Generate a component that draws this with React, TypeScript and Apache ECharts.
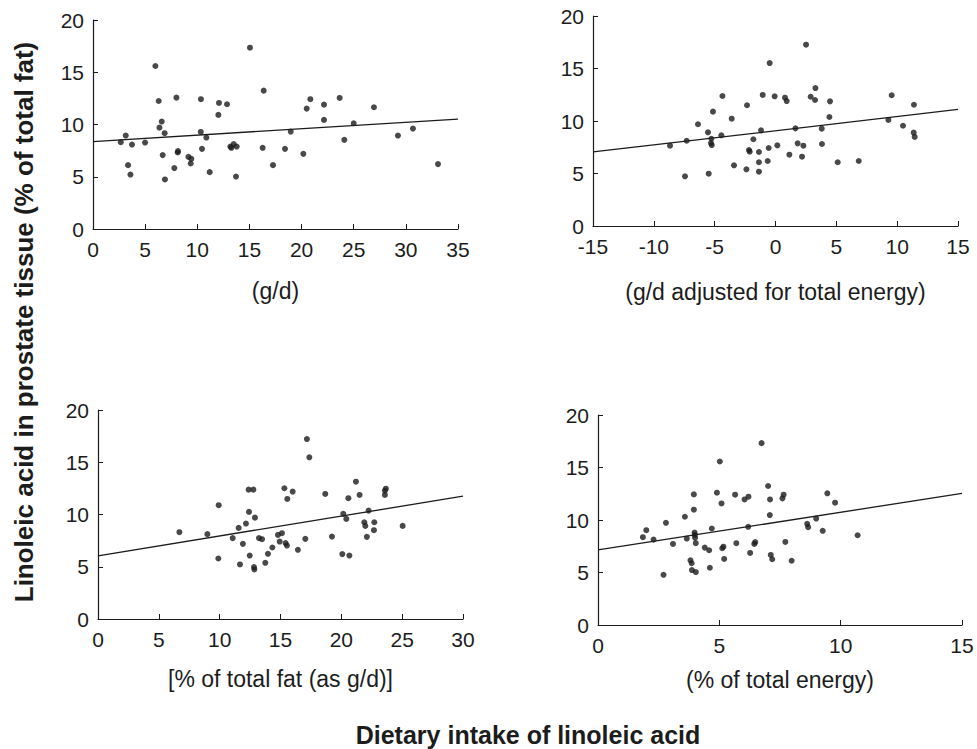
import React, { useEffect, useRef } from "react";
import * as echarts from "echarts";

// Panel 1: g/d
const p1x = [5.98, 15.05, 16.37, 6.3, 8.0, 10.35, 12.08, 12.85, 12.02, 6.59, 6.37, 6.87, 3.14, 2.66, 3.74, 4.99, 10.33, 10.87, 10.45, 13.17, 13.49, 13.78, 13.27, 16.27, 6.68, 8.15, 8.12, 9.15, 9.43, 9.37, 3.36, 3.59, 7.8, 11.19, 13.71, 6.9, 20.84, 20.49, 22.15, 23.65, 26.94, 22.15, 25.0, 18.96, 24.1, 29.24, 30.68, 18.41, 20.17, 17.26, 33.08];
const p1y = [15.6, 17.35, 13.24, 12.25, 12.57, 12.42, 12.06, 11.94, 10.92, 10.28, 9.7, 9.17, 8.94, 8.31, 8.08, 8.27, 9.29, 8.75, 7.67, 7.89, 8.12, 7.89, 7.77, 7.77, 7.07, 7.45, 7.32, 6.9, 6.71, 6.27, 6.11, 5.21, 5.83, 5.44, 5.02, 4.74, 12.42, 11.52, 11.9, 12.54, 11.65, 10.44, 10.12, 9.32, 8.53, 8.94, 9.61, 7.67, 7.19, 6.11, 6.21];
const fit1 = [[0, 8.37], [35, 10.52]];

// Panel 2: g/d adjusted for total energy
const p2x = [-8.67, -7.3, -6.37, -5.55, -5.14, -4.36, -3.6, -2.34, -4.45, -5.27, -5.3, -5.24, -1.82, -2.18, -2.12, -3.41, -2.39, -7.44, -5.49, 2.51, -0.48, -1.05, -0.07, 0.78, 0.92, 3.28, 2.89, 3.25, 4.48, 4.43, 9.55, 11.38, 9.28, 10.48, 11.36, 11.44, -1.19, 1.64, 3.8, -1.36, -0.56, 0.15, 1.82, 2.29, 3.82, 1.14, 2.18, -1.36, -0.64, -1.36, 5.11, 6.84];
const p2y = [7.65, 8.12, 9.69, 8.92, 10.89, 12.38, 10.22, 11.5, 8.64, 8.31, 7.9, 7.71, 8.26, 7.24, 7.08, 5.78, 5.4, 4.73, 4.98, 17.27, 15.52, 12.48, 12.35, 12.22, 11.9, 13.14, 12.31, 12.0, 11.87, 10.38, 12.45, 11.55, 10.1, 9.55, 8.89, 8.48, 9.11, 9.3, 9.27, 7.05, 7.43, 7.68, 7.87, 7.65, 7.81, 6.79, 6.6, 6.07, 6.19, 5.17, 6.07, 6.19];
const fit2 = [[-15, 7.05], [15, 11.1]];

// Panel 3: % of total fat
const p3x = [6.69, 8.99, 9.92, 9.89, 11.07, 11.56, 12.16, 12.38, 12.77, 12.41, 12.9, 11.91, 12.47, 11.67, 12.82, 12.85, 13.23, 13.48, 13.75, 13.97, 14.33, 14.79, 14.93, 17.17, 17.37, 15.32, 16.0, 15.56, 18.68, 21.2, 20.58, 21.5, 23.66, 23.58, 23.58, 20.16, 20.41, 22.24, 21.89, 21.97, 22.71, 22.68, 22.1, 25.04, 19.23, 17.04, 16.43, 20.08, 20.66, 15.12, 15.42, 15.53];
const p3y = [8.31, 8.12, 10.89, 5.79, 7.74, 8.72, 9.13, 12.38, 12.38, 10.25, 9.7, 7.19, 6.07, 5.22, 4.97, 4.74, 7.74, 7.64, 5.38, 6.24, 6.84, 8.05, 7.41, 17.22, 15.47, 12.51, 12.19, 11.49, 11.97, 13.14, 11.56, 11.87, 12.47, 12.28, 11.87, 10.06, 9.58, 10.37, 9.26, 8.91, 9.26, 8.5, 7.86, 8.91, 7.89, 7.67, 6.62, 6.21, 6.07, 8.21, 7.26, 7.03];
const fit3 = [[0, 6.05], [30, 11.75]];

// Panel 4: % of total energy
const p4x = [1.85, 1.99, 2.29, 2.8, 3.09, 2.7, 3.58, 3.66, 3.95, 3.95, 3.98, 3.99, 4.0, 4.03, 3.81, 3.86, 3.87, 4.03, 4.4, 4.58, 4.61, 4.69, 4.9, 5.02, 5.09, 5.12, 5.17, 5.2, 5.7, 5.65, 6.04, 6.2, 6.19, 6.27, 6.48, 6.44, 6.74, 7.01, 7.09, 7.65, 7.6, 7.08, 9.45, 9.77, 8.99, 8.62, 8.66, 9.26, 10.7, 7.72, 7.12, 7.18, 7.98];
const p4y = [8.36, 9.03, 8.13, 9.73, 7.72, 4.78, 10.31, 8.23, 12.44, 10.98, 8.8, 8.58, 8.3, 7.79, 6.16, 5.88, 5.23, 5.04, 7.37, 7.12, 5.45, 9.19, 12.6, 15.57, 11.58, 7.31, 7.46, 6.29, 7.79, 12.41, 11.96, 12.22, 9.35, 6.86, 7.89, 7.72, 17.32, 13.24, 11.96, 12.41, 12.06, 10.47, 12.54, 11.65, 10.14, 9.64, 9.32, 8.97, 8.55, 7.91, 6.67, 6.26, 6.12];
const fit4 = [[0, 7.15], [15, 12.53]];

const xNames = ["(g/d)", "(g/d adjusted for total energy)", "[% of total fat (as g/d)]", "(% of total energy)"];
const xRanges = [[0, 35], [-15, 15], [0, 30], [0, 15]];
const xIntervals = [5, 5, 5, 5];
const yRange = [0, 20];
const yInterval = 5;
const yTitle = "Linoleic acid in prostate tissue (% of total fat)";
const bottomTitle = "Dietary intake of linoleic acid";

const FONT = "'Liberation Sans', Arial, Helvetica, sans-serif";
const INK = "#1c1c1c";

const zip = (xs: number[], ys: number[]) => xs.map((x, i) => [x, ys[i]]);

export default function App() {
  const ref = useRef<HTMLDivElement>(null);
  useEffect(() => {
    const chart = echarts.init(ref.current!, null, { renderer: "svg" });
    const grids = [
      { left: 93, top: 20, width: 365, height: 209 },
      { left: 593, top: 16, width: 365, height: 210 },
      { left: 98, top: 410, width: 365, height: 209 },
      { left: 598, top: 415, width: 364, height: 210 },
    ];
    const nameGaps = [50, 54, 48, 43];
    const pts = [zip(p1x, p1y), zip(p2x, p2y), zip(p3x, p3y), zip(p4x, p4y)];
    const fits = [fit1, fit2, fit3, fit4];
    const axisCommon = {
      axisLine: { show: true, onZero: false, lineStyle: { color: INK, width: 1.2 } },
      axisTick: { show: true, inside: true, length: 5, lineStyle: { color: INK, width: 1 } },
      splitLine: { show: false },
    };
    const option: any = {
      animation: false,
      backgroundColor: "#ffffff",
      grid: grids,
      xAxis: grids.map((_, i) => ({
        type: "value",
        gridIndex: i,
        min: xRanges[i][0],
        max: xRanges[i][1],
        interval: xIntervals[i],
        name: xNames[i],
        nameLocation: "middle",
        nameGap: nameGaps[i],
        nameTextStyle: { fontSize: 23, color: INK, fontFamily: FONT },
        axisLabel: { fontSize: 21, color: INK, fontFamily: FONT, margin: 10 },
        ...axisCommon,
      })),
      yAxis: grids.map((_, i) => ({
        type: "value",
        gridIndex: i,
        min: yRange[0],
        max: yRange[1],
        interval: yInterval,
        axisLabel: { fontSize: 21, color: INK, fontFamily: FONT, margin: 9 },
        ...axisCommon,
      })),
      series: [
        ...pts.map((d, i) => ({
          type: "scatter",
          xAxisIndex: i,
          yAxisIndex: i,
          data: d,
          symbol: "circle",
          symbolSize: 6,
          itemStyle: { color: INK },
          z: 3,
        })),
        ...fits.map((d, i) => ({
          type: "line",
          xAxisIndex: i,
          yAxisIndex: i,
          data: d,
          symbol: "none",
          lineStyle: { color: INK, width: 1.3 },
          z: 2,
        })),
      ],
      graphic: [
        {
          type: "text",
          x: 24,
          y: 322,
          rotation: Math.PI / 2,
          style: {
            text: yTitle,
            fill: INK,
            font: `bold 26px ${FONT}`,
            textAlign: "center",
            textVerticalAlign: "middle",
          },
        },
        {
          type: "text",
          x: 528,
          y: 735,
          style: {
            text: bottomTitle,
            fill: INK,
            font: `bold 25px ${FONT}`,
            textAlign: "center",
            textVerticalAlign: "middle",
          },
        },
      ],
    };
    chart.setOption(option);
    return () => chart.dispose();
  }, []);
  return (
    <div
      ref={ref}
      style={{ position: "absolute", left: 0, top: 0, width: 977, height: 749, background: "#fff" }}
    />
  );
}
